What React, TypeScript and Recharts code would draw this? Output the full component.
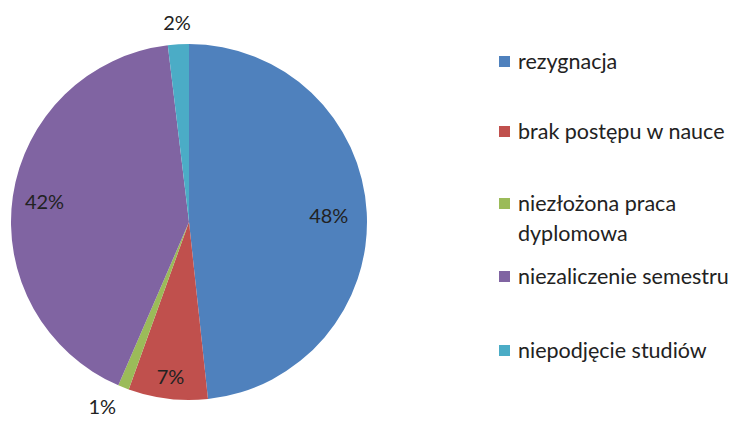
import { PieChart, Pie, Cell } from "recharts";

const CATEGORIES = [
  "rezygnacja",
  "brak postępu w nauce",
  "niezłożona praca dyplomowa",
  "niezaliczenie semestru",
  "niepodjęcie studiów",
];
const SHARES = [48.3, 7.2, 1.0, 41.6, 1.9];
const LABELS = ["48%", "7%", "1%", "42%", "2%"];

const COLORS = ["#4F81BD", "#C0504D", "#9BBB59", "#8064A2", "#4BACC6"];
// label distance from centre, per slice (inside vs outside)
const LABEL_R = [140, 155, 198, 146, 200];
const LEGEND_TOP = [0, 40, 42, 13, 44];

const data = CATEGORIES.map((name, i) => ({ name, value: SHARES[i], label: LABELS[i] }));

const FONT = "Lato, 'Open Sans', sans-serif";
const RAD = Math.PI / 180;

function renderLabel(props: any) {
  const { cx, cy, midAngle, index } = props;
  const r = LABEL_R[index];
  const x = cx + r * Math.cos(-midAngle * RAD);
  const y = cy + r * Math.sin(-midAngle * RAD);
  const outside = r > 178;
  let anchor = "middle";
  if (outside && Math.abs(x - cx) > 30) anchor = x < cx ? "end" : "start";
  return (
    <text
      x={x}
      y={y}
      textAnchor={anchor}
      dominantBaseline="central"
      fill="#222"
      fontSize={20}
      fontFamily={FONT}
    >
      {LABELS[index]}
    </text>
  );
}

function LegendBox() {
  return (
    <div
      style={{
        position: "absolute",
        left: 499,
        top: 46,
        width: 244,
        fontFamily: FONT,
        fontSize: 21.5,
        color: "#222",
        lineHeight: "30px",
      }}
    >
      {CATEGORIES.map((name, i) => (
        <div key={name} style={{ display: "flex", alignItems: "flex-start", marginTop: LEGEND_TOP[i] }}>
          <span
            style={{
              width: 11,
              height: 11,
              background: COLORS[i],
              marginTop: 10,
              marginRight: 8,
              flexShrink: 0,
            }}
          />
          <span style={{ whiteSpace: "nowrap" }}>
            {name === "niezłożona praca dyplomowa" ? (
              <>
                niezłożona praca
                <br />
                dyplomowa
              </>
            ) : (
              name
            )}
          </span>
        </div>
      ))}
    </div>
  );
}

export default function App() {
  return (
    <div style={{ position: "fixed", left: 0, top: 0, width: 743, height: 421, background: "#fff" }}>
      <PieChart width={743} height={421} margin={{ top: 0, right: 0, bottom: 0, left: 0 }}>
        <Pie
          data={data}
          dataKey="value"
          nameKey="name"
          cx={189}
          cy={222}
          outerRadius={178}
          startAngle={90}
          endAngle={-270}
          stroke="none"
          label={renderLabel}
          labelLine={false}
          isAnimationActive={false}
        >
          {data.map((d, i) => (
            <Cell key={d.name} fill={COLORS[i]} />
          ))}
        </Pie>
      </PieChart>
      <LegendBox />
    </div>
  );
}
